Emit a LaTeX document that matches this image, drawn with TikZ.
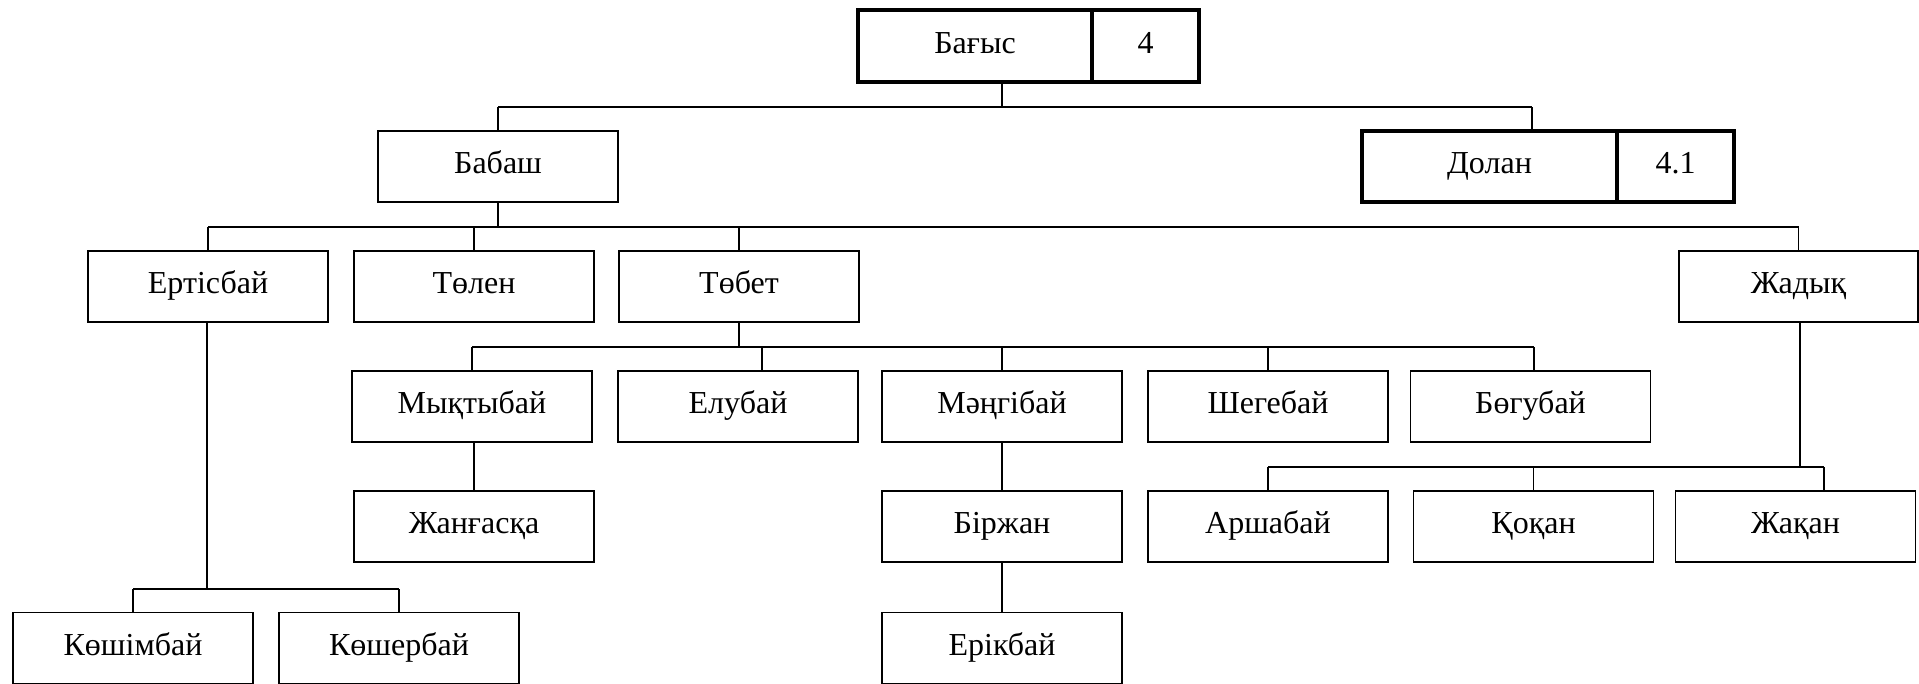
\documentclass[tikz,border=0pt]{standalone}
\usepackage{fontspec}
\setmainfont{Liberation Serif}
\begin{document}
\begin{tikzpicture}[x=1pt,y=-1pt,
  box/.style={draw, line width=1.3pt, minimum width=240pt, minimum height=71pt, inner sep=0pt,
    text height=23pt, text depth=9pt, font=\fontsize{32}{37}\selectfont},
  tbox/.style={box, line width=3.5pt},
  conn/.style={line width=1.6pt}]
\useasboundingbox (0,0) rectangle (1919,683);
\clip (0,0) rectangle (1919,683);
% level 0 and 1
\node[tbox, minimum width=234pt, minimum height=72pt] (bagysN) at (975,46) {Бағыс};
\node[tbox, minimum width=107pt, minimum height=72pt] (bagysV) at (1145.5,46) {4};
\node[tbox, minimum width=255pt] (dolanN) at (1489.5,166.5) {Долан};
\node[tbox, minimum width=117pt] (dolanV) at (1675.5,166.5) {4.1};
\node[box] (babash) at (498,166.5) {Бабаш};
% level 2
\node[box] (ertis) at (208,286.5) {Ертісбай};
\node[box] (tolen) at (474,286.5) {Төлен};
\node[box] (tobet) at (739,286.5) {Төбет};
\node[box, minimum width=239pt] (zhadyk) at (1798.5,286.5) {Жадық};
% level 3
\node[box] (myk) at (472,406.5) {Мықтыбай};
\node[box] (elubai) at (738,406.5) {Елубай};
\node[box] (mangi) at (1002,406.5) {Мәңгібай};
\node[box] (shege) at (1268,406.5) {Шегебай};
\node[box] (bogu) at (1530.5,406.5) {Бөгубай};
% level 4
\node[box] (zhang) at (474,526.5) {Жанғасқа};
\node[box] (birzh) at (1002,526.5) {Біржан};
\node[box] (arsh) at (1268,526.5) {Аршабай};
\node[box] (kokan) at (1533.5,526.5) {Қоқан};
\node[box] (zhakan) at (1795.5,526.5) {Жақан};
% level 5
\node[box] (kosh) at (133,648) {Көшімбай};
\node[box] (kosher) at (399,648) {Көшербай};
\node[box] (erik) at (1002,648) {Ерікбай};
% junction coordinates
\coordinate (s1) at (1002,107);
\coordinate (d1) at (1532,107);
\coordinate (y2) at (0,227);
\coordinate (y3) at (0,347);
\coordinate (y4) at (0,467);
\coordinate (y5) at (0,589);
\coordinate (elDrop) at (762,371);
\coordinate (zkDrop) at (1824,491);
\coordinate (zkStem) at (1800,322);
\coordinate (erStem) at (207,322);
% level 1 connectors
\draw[conn] (s1 |- bagysN.south) -- (s1);
\draw[conn] (babash.north |- s1) -- (d1);
\draw[conn] (babash.north |- s1) -- (babash.north);
\draw[conn] (d1) -- (d1 |- dolanN.north);
% level 2 connectors
\draw[conn] (babash.south) -- (babash.south |- y2);
\draw[conn] (ertis.north |- y2) -- (zhadyk.north |- y2);
\foreach \n in {ertis,tolen,tobet,zhadyk}
  \draw[conn] (\n.north |- y2) -- (\n.north);
% level 3 connectors
\draw[conn] (tobet.south) -- (tobet.south |- y3);
\draw[conn] (myk.north |- y3) -- ([xshift=3.5pt]bogu.north |- y3);
\foreach \n in {myk,mangi,shege}
  \draw[conn] (\n.north |- y3) -- (\n.north);
\draw[conn] (elDrop |- y3) -- (elDrop);
\draw[conn] ([xshift=3.5pt]bogu.north |- y3) -- ([xshift=3.5pt]bogu.north);
% vertical chains
\draw[conn] ([xshift=2pt]myk.south) -- (zhang.north);
\draw[conn] (mangi.south) -- (birzh.north);
\draw[conn] (birzh.south) -- (erik.north);
% Zhadyk children
\draw[conn] (zkStem) -- (zkStem |- y4);
\draw[conn] (arsh.north |- y4) -- (zkDrop |- y4);
\foreach \n in {arsh,kokan}
  \draw[conn] (\n.north |- y4) -- (\n.north);
\draw[conn] (zkDrop |- y4) -- (zkDrop);
% Ertisbai children
\draw[conn] (erStem) -- (erStem |- y5);
\draw[conn] (kosh.north |- y5) -- (kosher.north |- y5);
\foreach \n in {kosh,kosher}
  \draw[conn] (\n.north |- y5) -- (\n.north);
\end{tikzpicture}
\end{document}
